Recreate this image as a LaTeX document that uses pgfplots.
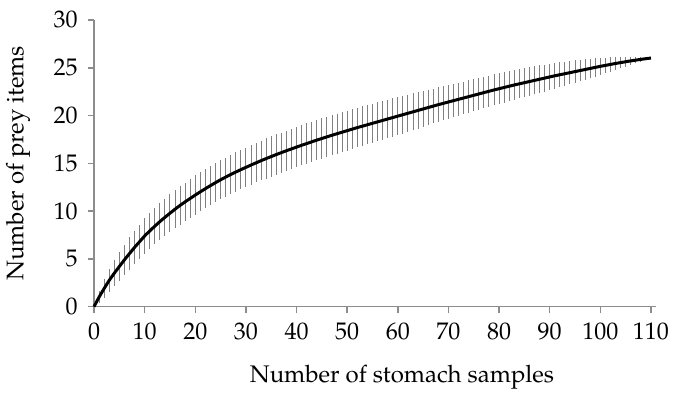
\documentclass[border=0pt]{standalone}
\usepackage[T1]{fontenc}
\usepackage{mathpazo}
\usepackage{pgfplots}
\usepackage{pgfplotstable}
\pgfplotsset{compat=1.18}
\pgfplotstableread{
x y e
0 0 0
1 1.0 0.6
2 1.9 0.95
3 2.75 1.2
4 3.5 1.35
5 4.2 1.5
6 4.9 1.6
7 5.55 1.7
8 6.2 1.75
9 6.8 1.8
10 7.4 1.85
11 7.92 1.9
12 8.42 1.9
13 8.9 1.95
14 9.35 1.95
15 9.78 2.0
16 10.2 2.0
17 10.6 2.0
18 10.97 2.0
19 11.33 2.05
20 11.68 2.05
21 12.02 2.05
22 12.35 2.05
23 12.67 2.05
24 12.98 2.05
25 13.28 2.05
26 13.56 2.05
27 13.83 2.05
28 14.09 2.05
29 14.34 2.05
30 14.58 2.05
31 14.82 2.05
32 15.05 2.05
33 15.28 2.05
34 15.5 2.1
35 15.71 2.1
36 15.92 2.1
37 16.12 2.1
38 16.32 2.1
39 16.51 2.1
40 16.7 2.1
41 16.89 2.1
42 17.07 2.1
43 17.25 2.1
44 17.43 2.1
45 17.6 2.1
46 17.77 2.1
47 17.94 2.1
48 18.1 2.1
49 18.26 2.1
50 18.42 2.1
51 18.58 2.08
52 18.74 2.07
53 18.89 2.06
54 19.04 2.05
55 19.19 2.04
56 19.34 2.03
57 19.49 2.02
58 19.64 2.01
59 19.79 2.0
60 19.94 2.0
61 20.09 1.98
62 20.24 1.95
63 20.39 1.93
64 20.54 1.9
65 20.69 1.88
66 20.84 1.85
67 20.99 1.82
68 21.14 1.8
69 21.28 1.78
70 21.42 1.75
71 21.56 1.74
72 21.7 1.72
73 21.84 1.71
74 21.98 1.69
75 22.12 1.68
76 22.26 1.66
77 22.4 1.65
78 22.54 1.63
79 22.68 1.62
80 22.81 1.6
81 22.94 1.58
82 23.07 1.56
83 23.2 1.54
84 23.32 1.52
85 23.44 1.5
86 23.56 1.48
87 23.68 1.46
88 23.8 1.44
89 23.92 1.42
90 24.04 1.4
91 24.16 1.36
92 24.27 1.32
93 24.38 1.27
94 24.49 1.22
95 24.6 1.17
96 24.71 1.12
97 24.82 1.07
98 24.93 1.02
99 25.04 0.96
100 25.15 0.9
101 25.25 0.82
102 25.35 0.74
103 25.45 0.66
104 25.54 0.58
105 25.63 0.5
106 25.72 0.42
107 25.8 0.34
108 25.88 0.26
109 25.95 0.18
110 26.02 0.1
}\datatable
\begin{document}
\begin{tikzpicture}
\fontsize{12}{14.5}\selectfont
\begin{axis}[
  scale only axis,
  width=281pt, height=143.35pt,
  xmin=0, xmax=111,
  ymin=0, ymax=30,
  xtick={0,10,...,110},
  ytick={0,5,...,30},
  axis lines*=left,
  axis line style={draw=black!45, line width=0.75pt},
  tick style={draw=black!45, line width=0.75pt},
  tick align=outside,
  major tick length=3pt,
  clip=false,
  tick label style={font=\fontsize{12}{14.5}\selectfont},
  label style={font=\fontsize{12}{14.5}\selectfont},
  xlabel={Number of stomach samples},
  ylabel={Number of prey items},
  xlabel style={at={(axis description cs:0.548,0)}, anchor=base, yshift=-38pt},
  ylabel style={at={(axis description cs:-0.1352,0.5)}, anchor=center},
  yticklabel style={xshift=-1pt},
  xticklabel style={yshift=-1pt},
]
\coordinate (bbl) at (axis description cs:-0.16726,-0.30450);
\coordinate (btr) at (axis description cs:1.03025,1.06976);
\addplot[draw=none, forget plot,
  error bars/.cd, y dir=both, y explicit,
  error bar style={draw=black!50, line width=0.45pt},
  error mark=none]
  table[x=x, y=y, y error=e]{\datatable};
\addplot[black, line width=1.5pt, mark=none, smooth, tension=0.3] table[x=x, y=y]{\datatable};
\end{axis}
\pgfresetboundingbox
\path (bbl) rectangle (btr);
\end{tikzpicture}
\end{document}
